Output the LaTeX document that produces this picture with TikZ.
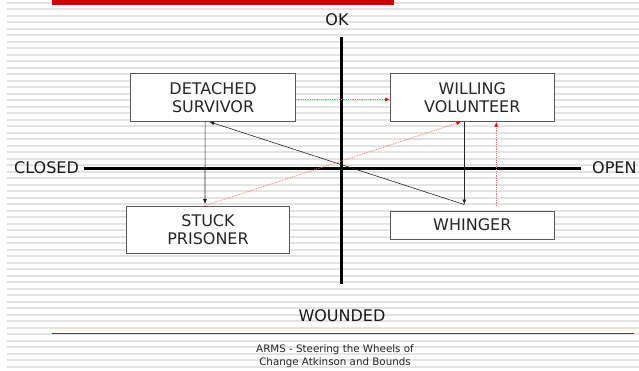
\documentclass[tikz,border=0pt]{standalone}
\usepackage{fontspec}
\setmainfont{DejaVu Sans}
\usetikzlibrary{arrows.meta}
\definecolor{stripe}{HTML}{E3E3E3}
\definecolor{barred}{HTML}{CC0000}
\definecolor{linered}{HTML}{C41010}
\tikzset{
  box/.style={draw=black!65, fill=white, line width=0.8pt, align=center,
    inner sep=0pt, font=\fontsize{16}{18.5}\selectfont, text=black!85},
  lbl/.style={inner sep=0pt, font=\fontsize{16}{18.5}\selectfont, text=black!90},
  foot/.style={inner sep=0pt, font=\fontsize{10.3}{13}\selectfont, text=black!85},
  blk/.style={black!85, line width=0.6pt, -{Latex[length=5pt,width=4pt]}},
  redd/.style={red!55, densely dotted, line width=0.8pt, -{Latex[length=5pt,width=4pt,color=red]}},
  axis/.style={black, line width=3pt}
}
\begin{document}
\begin{tikzpicture}[x=1pt,y=-1pt]
\useasboundingbox (0,0) rectangle (639,370);
\fill[white] (0,0) rectangle (639,370);
\foreach \k in {0,...,56}
  \draw[stripe, line width=1.8pt] (7,{2.7+6.5*\k}) -- (639,{2.7+6.5*\k});
% top red bar and bottom rule
\fill[barred] (52,0) rectangle (394,4.9);
\draw[linered, line width=1.1pt] (52,333.3) -- (633.7,333.3);
% axes
\coordinate (vtop) at (341.5,37.3);
\coordinate (vbot) at (341.5,284.3);
\coordinate (hleft) at (83.5,168.3);
\coordinate (hright) at (580.7,168.3);
\draw[axis] (vtop) -- (vbot);
\draw[axis, line width=3.5pt] (hleft) -- (hright);
% axis labels
\node[lbl, anchor=base] (ok) at (337,25.8) {OK};
\node[lbl, anchor=base] (wounded) at (342,321.8) {WOUNDED};
\node[lbl, anchor=base west] (closed) at (14,173.8) {CLOSED};
\node[lbl, anchor=base west] (open) at (592,173.8) {OPEN};
% boxes
\node[box, minimum width=164.6pt, minimum height=47.6pt] (ds) at (213.1,97.5) {DETACHED\\SURVIVOR};
\node[box, minimum width=163.8pt, minimum height=47.6pt] (wv) at (472.3,97.5) {WILLING\\VOLUNTEER};
\node[box, minimum width=163.4pt, minimum height=47.3pt] (sp) at (208,229.7) {STUCK\\PRISONER};
\node[box, minimum width=163.8pt, minimum height=28.3pt] (wh) at (472.3,225.1) {WHINGER};
% connector end points
\coordinate (w1) at ([xshift=-8pt,yshift=6pt]wh.north);
\coordinate (w2) at ([xshift=24pt,yshift=4.5pt]wh.north);
% black arrows
\draw[blk] ([xshift=-8pt]ds.south) -- ([xshift=-3pt,yshift=1.5pt]sp.north);
\draw[blk] ([xshift=-8pt]wv.south) -- (w1);
\draw[blk] (w1) -- ([xshift=-4pt]ds.south);
% red dotted arrows
\draw[redd] ([yshift=-2pt]ds.east) -- ([yshift=-2pt]wv.west);
\draw[redd] ([xshift=-3pt]sp.north) -- ([xshift=-11pt]wv.south);
\draw[redd] (w2) -- ([xshift=24pt]wv.south);
% footer
\node[foot, anchor=base] (f1) at (335,352.5) {ARMS - Steering the Wheels of};
\node[foot, anchor=base] (f2) at (335,365.5) {Change Atkinson and Bounds};
\end{tikzpicture}
\end{document}
